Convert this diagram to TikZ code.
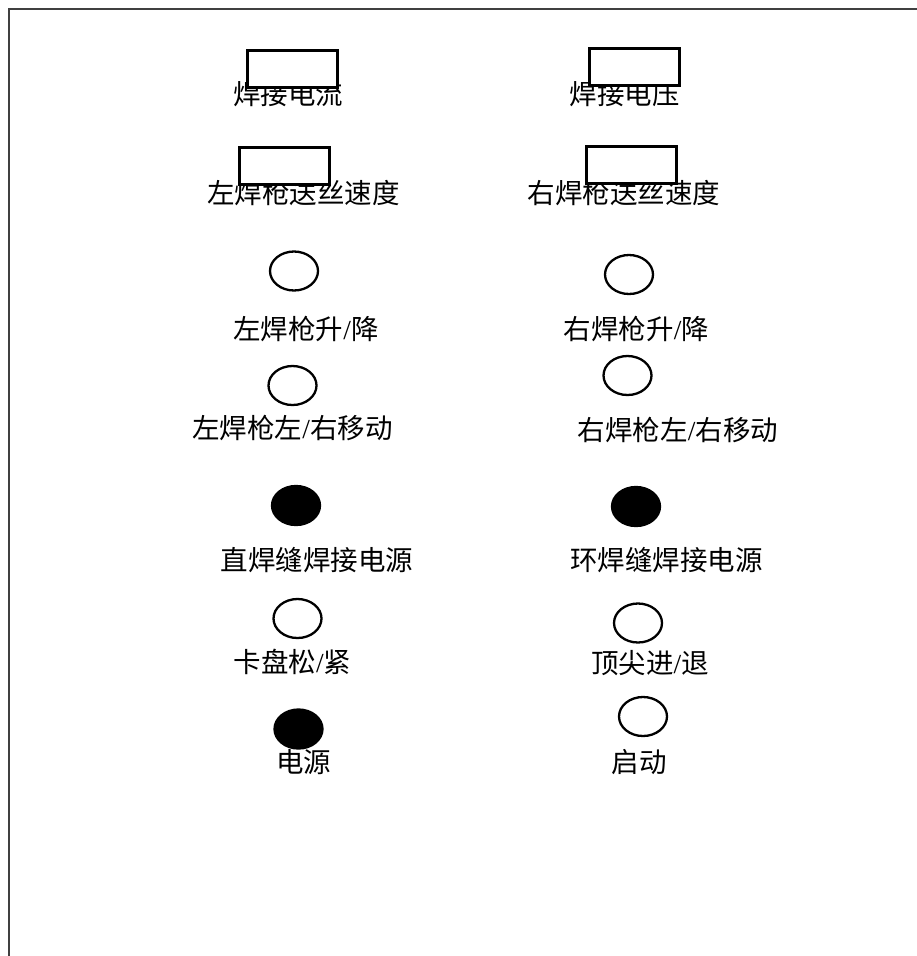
\documentclass[tikz,border=0pt]{standalone}
\usepackage{fontspec}
\setmainfont{Liberation Serif}
\newfontfamily\cjk{Noto Sans CJK SC}
\usetikzlibrary{shapes.geometric}
\tikzset{
  lbl/.style={inner sep=0pt, font=\fontsize{27.5}{30}\selectfont\cjk, text=black},
  panel/.style={draw=black, line width=3pt, fill=white, minimum width=90pt, minimum height=37pt, inner sep=0pt},
  lamp/.style={ellipse, draw=black, line width=2.3pt, minimum width=48pt, minimum height=39pt, inner sep=0pt},
  lampon/.style={lamp, fill=black},
  frame/.style={draw=black!75, line width=1.5pt}
}
\newcommand{\slsh}{{\rmfamily /}}
\begin{document}
\begin{tikzpicture}[x=1pt,y=-1pt]
\useasboundingbox (0,0) rectangle (917,956);
\coordinate (fb) at (9,956);
\coordinate (fc) at (9,9);
\coordinate (fr) at (917,9);
\draw[frame] (fb) -- (fc) -- (fr);
% labels
\node[lbl] (t1) at (288,94) {焊接电流};
\node[lbl] (t2) at (624.5,94) {焊接电压};
\node[lbl] (t3) at (303.5,193) {左焊枪送丝速度};
\node[lbl] (t4) at (624,193) {右焊枪送丝速度};
\node[lbl] (t5) at (306,329) {左焊枪升\slsh 降};
\node[lbl] (t6) at (636.5,329) {右焊枪升\slsh 降};
\node[lbl] (t7) at (292.5,428) {左焊枪左\slsh 右移动};
\node[lbl] (t8) at (678,430) {右焊枪左\slsh 右移动};
\node[lbl] (t9) at (317,560) {直焊缝焊接电源};
\node[lbl] (t10) at (666.5,560) {环焊缝焊接电源};
\node[lbl] (t11) at (292.5,662) {卡盘松\slsh 紧};
\node[lbl] (t12) at (650,663) {顶尖进\slsh 退};
\node[lbl] (t13) at (303.5,762) {电源};
\node[lbl] (t14) at (639,762) {启动};
% display boxes
\node[panel] (b1) at (292.5,68.5) {};
\node[panel] (b2) at (634.5,66.5) {};
\node[panel] (b3) at (284.5,166) {};
\node[panel] (b4) at (631.5,164.5) {};
% lamps / buttons
\node[lamp] (e1) at (294,271) {};
\node[lamp] (e2) at (629,274.5) {};
\node[lamp] (e3) at (292.5,385.5) {};
\node[lamp] (e4) at (627.5,375.5) {};
\node[lampon] (e5) at (296,505.5) {};
\node[lampon] (e6) at (636,506.5) {};
\node[lamp] (e7) at (297.5,618.5) {};
\node[lamp] (e8) at (638,623) {};
\node[lampon] (e9) at (298.5,729) {};
\node[lamp] (e10) at (643,716.5) {};
\end{tikzpicture}
\end{document}
